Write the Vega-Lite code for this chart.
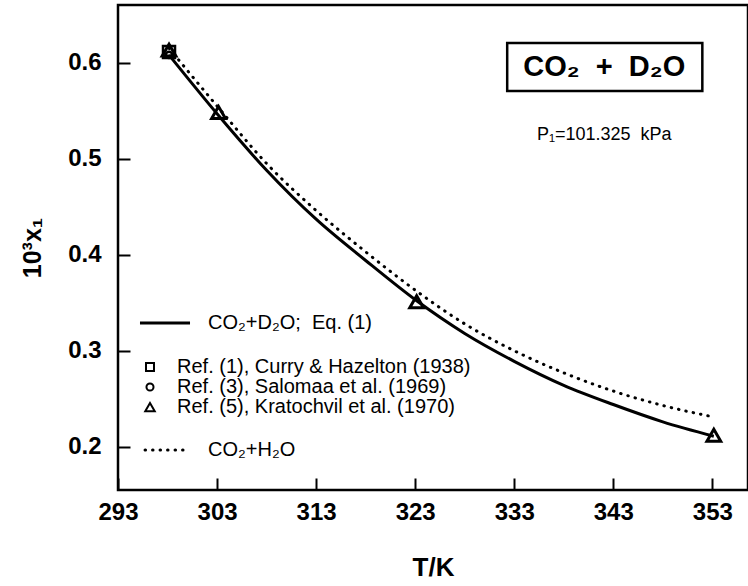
{
  "$schema": "https://vega.github.io/schema/vega-lite/v6.json",
  "width": 630,
  "height": 485,
  "autosize": {"type": "none"},
  "padding": {"left": 118, "top": 5, "right": 0, "bottom": 96},
  "background": "white",
  "config": {
    "view": {"stroke": "black", "strokeWidth": 2.5},
    "axis": {"domain": false, "grid": false, "labelFont": "Liberation Sans", "titleFont": "Liberation Sans", "labelColor": "black", "titleColor": "black", "labelFlush": false, "labelOverlap": false, "tickColor": "black", "tickWidth": 2, "tickOpacity": 1}
  },
  "datasets": {
    "d2o": [
      {"T": 298.15, "x": 0.608}, {"T": 303.15, "x": 0.545}, {"T": 308, "x": 0.488}, {"T": 313, "x": 0.437},
      {"T": 318, "x": 0.394}, {"T": 323.15, "x": 0.352}, {"T": 328, "x": 0.318}, {"T": 333, "x": 0.289},
      {"T": 338, "x": 0.264}, {"T": 343, "x": 0.244}, {"T": 348, "x": 0.226}, {"T": 353.15, "x": 0.211}
    ],
    "h2o": [
      {"T": 298.15, "x": 0.615}, {"T": 303.15, "x": 0.553}, {"T": 308, "x": 0.495}, {"T": 313, "x": 0.446},
      {"T": 318, "x": 0.403}, {"T": 323.15, "x": 0.362}, {"T": 328, "x": 0.328}, {"T": 333, "x": 0.3},
      {"T": 338, "x": 0.277}, {"T": 343, "x": 0.258}, {"T": 348, "x": 0.243}, {"T": 353.15, "x": 0.231}
    ],
    "pts": [
      {"T": 298.15, "x": 0.611, "ref": "Ref. (1)"},
      {"T": 298.15, "x": 0.608, "ref": "Ref. (3)"},
      {"T": 298.15, "x": 0.613, "ref": "Ref. (5)"},
      {"T": 303.15, "x": 0.548, "ref": "Ref. (5)"},
      {"T": 323.15, "x": 0.351, "ref": "Ref. (5)"},
      {"T": 353.15, "x": 0.212, "ref": "Ref. (5)"}
    ],
    "legsym": [
      {"T": 296.23, "x": 0.2831, "ref": "Ref. (1)"},
      {"T": 296.23, "x": 0.2622, "ref": "Ref. (3)"},
      {"T": 296.23, "x": 0.2414, "ref": "Ref. (5)"}
    ],
    "legsolid": [{"T": 295.22, "x": 0.329}, {"T": 300.27, "x": 0.329}],
    "legdot": [{"T": 295.73, "x": 0.1967}, {"T": 300.27, "x": 0.1967}],
    "legtext": [
      {"T": 302.09, "x": 0.329, "label": "CO₂+D₂O;\u00a0\u00a0Eq. (1)"},
      {"T": 298.96, "x": 0.2831, "label": "Ref. (1), Curry & Hazelton (1938)"},
      {"T": 298.96, "x": 0.2622, "label": "Ref. (3), Salomaa et al. (1969)"},
      {"T": 298.96, "x": 0.2414, "label": "Ref. (5), Kratochvil et al. (1970)"},
      {"T": 302.09, "x": 0.1967, "label": "CO₂+H₂O"}
    ],
    "box": [{"T": 332.29, "T2": 351.99, "x": 0.6204, "x2": 0.5705}],
    "title": [{"T": 342.09, "x": 0.5954, "label": "CO₂\u00a0\u00a0+\u00a0\u00a0D₂O"}],
    "press": [{"T": 342.09, "x": 0.5246, "label": "P₁=101.325\u00a0\u00a0kPa"}],
    "xmajor": [{"T": 293}, {"T": 303}, {"T": 313}, {"T": 323}, {"T": 333}, {"T": 343}, {"T": 353}],
    "xminor": [{"T": 295}, {"T": 297}, {"T": 299}, {"T": 301}, {"T": 305}, {"T": 307}, {"T": 309}, {"T": 311}, {"T": 315}, {"T": 317}, {"T": 319}, {"T": 321}, {"T": 325}, {"T": 327}, {"T": 329}, {"T": 331}, {"T": 335}, {"T": 337}, {"T": 339}, {"T": 341}, {"T": 345}, {"T": 347}, {"T": 349}, {"T": 351}, {"T": 355}],
    "ymajor": [{"x": 0.2}, {"x": 0.3}, {"x": 0.4}, {"x": 0.5}, {"x": 0.6}],
    "yminor": [{"x": 0.16}, {"x": 0.18}, {"x": 0.22}, {"x": 0.24}, {"x": 0.26}, {"x": 0.28}, {"x": 0.32}, {"x": 0.34}, {"x": 0.36}, {"x": 0.38}, {"x": 0.42}, {"x": 0.44}, {"x": 0.46}, {"x": 0.48}, {"x": 0.52}, {"x": 0.54}, {"x": 0.56}, {"x": 0.58}, {"x": 0.62}, {"x": 0.64}]
  },
  "encoding": {
    "x": {"field": "T", "type": "quantitative", "scale": {"domain": [293, 356.6], "nice": false, "zero": false},
      "axis": {"orient": "bottom", "values": [293, 303, 313, 323, 333, 343, 353], "ticks": true, "tickSize": 12, "offset": -12,
        "format": "d", "labelFontSize": 24, "labelFontWeight": "bold", "labelPadding": 10,
        "title": "T/K", "titleFontSize": 26, "titleFontWeight": "bold", "titlePadding": 30}},
    "y": {"field": "x", "type": "quantitative", "scale": {"domain": [0.155, 0.66], "nice": false, "zero": false},
      "axis": {"orient": "left", "values": [0.2, 0.3, 0.4, 0.5, 0.6], "format": ".1f", "ticks": true, "tickSize": 12, "offset": -12,
        "labelFontSize": 24, "labelFontWeight": "bold", "labelPadding": 17,
        "title": "10³x₁", "titleFontSize": 25, "titleFontWeight": "bold", "titlePadding": 22}}
  },
  "layer": [
    {
      "data": {"name": "d2o"},
      "mark": {"type": "line", "color": "black", "strokeWidth": 3, "interpolate": "monotone"}
    },
    {
      "data": {"name": "h2o"},
      "mark": {"type": "line", "color": "black", "strokeWidth": 3, "strokeCap": "round", "strokeDash": [0.5, 7], "interpolate": "monotone"}
    },
    {
      "data": {"name": "pts"},
      "transform": [{"filter": "datum.ref === 'Ref. (1)'"}],
      "mark": {"type": "point", "shape": "square", "size": 144, "filled": false, "color": "black", "strokeWidth": 2.5, "opacity": 1}
    },
    {
      "data": {"name": "pts"},
      "transform": [{"filter": "datum.ref === 'Ref. (3)'"}],
      "mark": {"type": "point", "shape": "circle", "size": 40, "filled": false, "color": "black", "strokeWidth": 2.5, "opacity": 1}
    },
    {
      "data": {"name": "pts"},
      "transform": [{"filter": "datum.ref === 'Ref. (5)'"}],
      "mark": {"type": "point", "shape": "triangle-up", "size": 190, "filled": false, "color": "black", "strokeWidth": 3, "opacity": 1}
    },
    {
      "data": {"name": "legsym"},
      "transform": [{"filter": "datum.ref === 'Ref. (1)'"}],
      "mark": {"type": "point", "shape": "square", "size": 64, "filled": false, "color": "black", "strokeWidth": 2, "opacity": 1}
    },
    {
      "data": {"name": "legsym"},
      "transform": [{"filter": "datum.ref === 'Ref. (3)'"}],
      "mark": {"type": "point", "shape": "circle", "size": 50, "filled": false, "color": "black", "strokeWidth": 2, "opacity": 1}
    },
    {
      "data": {"name": "legsym"},
      "transform": [{"filter": "datum.ref === 'Ref. (5)'"}],
      "mark": {"type": "point", "shape": "triangle-up", "size": 90, "filled": false, "color": "black", "strokeWidth": 2, "opacity": 1}
    },
    {
      "data": {"name": "legsolid"},
      "mark": {"type": "line", "color": "black", "strokeWidth": 3}
    },
    {
      "data": {"name": "legdot"},
      "mark": {"type": "line", "color": "black", "strokeWidth": 3, "strokeCap": "round", "strokeDash": [0.5, 7]}
    },
    {
      "data": {"name": "legtext"},
      "mark": {"type": "text", "align": "left", "baseline": "middle", "font": "Liberation Sans", "fontSize": 20, "color": "black"},
      "encoding": {"text": {"field": "label"}}
    },
    {
      "data": {"name": "box"},
      "mark": {"type": "rect", "fill": null, "stroke": "black", "strokeWidth": 2.5},
      "encoding": {"x2": {"field": "T2"}, "y2": {"field": "x2"}}
    },
    {
      "data": {"name": "title"},
      "mark": {"type": "text", "align": "center", "baseline": "middle", "font": "Liberation Sans", "fontSize": 29, "fontWeight": "bold", "color": "black"},
      "encoding": {"text": {"field": "label"}}
    },
    {
      "data": {"name": "press"},
      "mark": {"type": "text", "align": "center", "baseline": "middle", "font": "Liberation Sans", "fontSize": 18, "color": "black"},
      "encoding": {"text": {"field": "label"}}
    },
    {
      "data": {"name": "xminor"},
      "mark": {"type": "rule", "color": "black", "strokeWidth": 2},
      "encoding": {"y": {"datum": 0.155, "type": "quantitative"}, "y2": {"datum": 0.16125}}
    },
    {
      "data": {"name": "xmajor"},
      "mark": {"type": "rule", "color": "black", "strokeWidth": 2},
      "encoding": {"y": {"datum": 0.66, "type": "quantitative"}, "y2": {"datum": 0.6475}}
    },
    {
      "data": {"name": "xminor"},
      "mark": {"type": "rule", "color": "black", "strokeWidth": 2},
      "encoding": {"y": {"datum": 0.66, "type": "quantitative"}, "y2": {"datum": 0.65375}}
    },
    {
      "data": {"name": "yminor"},
      "mark": {"type": "rule", "color": "black", "strokeWidth": 2},
      "encoding": {"x": {"datum": 293, "type": "quantitative"}, "x2": {"datum": 293.61}}
    },
    {
      "data": {"name": "ymajor"},
      "mark": {"type": "rule", "color": "black", "strokeWidth": 2},
      "encoding": {"x": {"datum": 356.6, "type": "quantitative"}, "x2": {"datum": 355.39}}
    },
    {
      "data": {"name": "yminor"},
      "mark": {"type": "rule", "color": "black", "strokeWidth": 2},
      "encoding": {"x": {"datum": 356.6, "type": "quantitative"}, "x2": {"datum": 355.99}}
    }
  ]
}
